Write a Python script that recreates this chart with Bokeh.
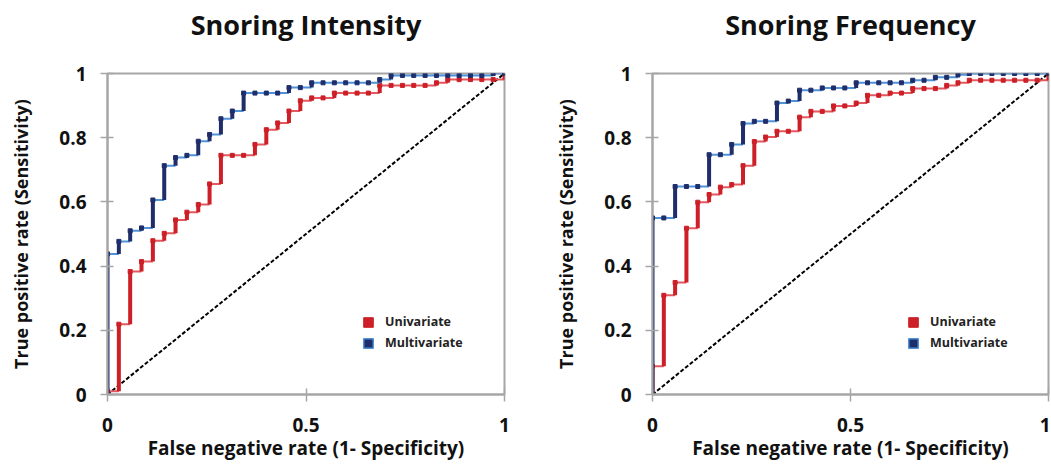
from bokeh.plotting import figure
from bokeh.layouts import row
from bokeh.models import Range1d, FixedTicker, Legend, LegendItem, Title
from bokeh.embed import file_html
from bokeh.resources import INLINE

# ---------------- data ----------------
fpr = [0.0, 0.0286, 0.0571, 0.0857, 0.1143, 0.1429, 0.1714, 0.2, 0.2286, 0.2571,
       0.2857, 0.3143, 0.3429, 0.3714, 0.4, 0.4286, 0.4571, 0.4857, 0.5143, 0.5429,
       0.5714, 0.6, 0.6286, 0.6571, 0.6857, 0.7143, 0.7429, 0.7714, 0.8, 0.8286,
       0.8571, 0.8857, 0.9143, 0.9429, 0.9714, 1.0]

intensity_uni = [0.01, 0.219, 0.383, 0.414, 0.479, 0.502, 0.544, 0.568, 0.592, 0.656,
                 0.745, 0.745, 0.745, 0.779, 0.825, 0.846, 0.883, 0.915, 0.924, 0.924,
                 0.939, 0.939, 0.939, 0.939, 0.963, 0.963, 0.963, 0.963, 0.963, 0.971,
                 0.981, 0.981, 0.981, 0.981, 0.981, 1.0]
intensity_multi = [0.438, 0.477, 0.510, 0.519, 0.606, 0.713, 0.738, 0.745, 0.789, 0.810,
                   0.859, 0.883, 0.939, 0.939, 0.939, 0.939, 0.956, 0.956, 0.971, 0.971,
                   0.971, 0.971, 0.971, 0.971, 0.981, 0.994, 0.994, 0.994, 0.994, 0.994,
                   0.994, 0.994, 0.994, 0.994, 1.0, 1.0]

frequency_uni = [0.088, 0.309, 0.349, 0.518, 0.599, 0.623, 0.646, 0.654, 0.713, 0.788,
                 0.802, 0.820, 0.820, 0.864, 0.882, 0.882, 0.899, 0.899, 0.908, 0.932,
                 0.932, 0.939, 0.939, 0.953, 0.953, 0.953, 0.963, 0.971, 0.979, 0.979,
                 0.979, 0.979, 0.979, 0.979, 0.979, 1.0]
frequency_multi = [0.55, 0.55, 0.648, 0.648, 0.648, 0.747, 0.747, 0.779, 0.844, 0.851,
                   0.851, 0.908, 0.914, 0.948, 0.948, 0.955, 0.955, 0.955, 0.971, 0.971,
                   0.971, 0.971, 0.971, 0.979, 0.979, 0.988, 0.988, 0.996, 1.0, 1.0,
                   1.0, 1.0, 1.0, 1.0, 1.0, 1.0]

titles = ["Snoring Intensity", "Snoring Frequency"]
series_names = ["Univariate", "Multivariate"]
diag_x = [0, 1]
diag_y = [0, 1]
x_ticks = [0, 0.5, 1]
x_tick_labels = ["0", "0.5", "1"]
y_ticks = [0, 0.2, 0.4, 0.6, 0.8, 1]
y_tick_labels = ["0", "0.2", "0.4", "0.6", "0.8", "1"]
x_label = "False negative rate (1- Specificity)"
y_label = "True positive rate (Sensitivity)"

# ---------------- style ----------------
FONT = "Open Sans"
NAVY = "#1F2E6B"
LIGHT_BLUE = "#4F92D8"
RED = "#CC1F27"
LIGHT_RED = "#E2585E"
FRAME_GRAY = "#A6A6A6"
TEXT = "#111111"
NAN = float("nan")


def draw_roc(p, xs, ys, dark, light):
    hx0, hx1, hy = [], [], []
    for k in range(len(xs) - 1):
        hx0.append(xs[k]); hx1.append(xs[k + 1]); hy.append(ys[k])
    p.segment(x0=hx0, y0=hy, x1=hx1, y1=hy, line_color=light, line_width=2)
    vx, vy0, vy1 = [], [], []
    prev = 0.0
    for k in range(len(xs)):
        if ys[k] != prev:
            vx.append(xs[k]); vy0.append(prev); vy1.append(ys[k])
        prev = ys[k]
    p.segment(x0=vx, y0=vy0, x1=vx, y1=vy1, line_color=dark, line_width=4)
    p.scatter(x=xs, y=ys, marker="square", size=4, fill_color=dark, line_color=dark)


def make_plot(title, uni, multi, width, border_left, border_right):
    p = figure(width=width, height=470, output_backend="svg", toolbar_location=None,
               x_range=Range1d(0, 1), y_range=Range1d(0, 1),
               min_border_left=border_left, min_border_right=border_right,
               min_border_top=73, min_border_bottom=76)
    p.background_fill_color = "white"
    p.border_fill_color = "white"
    p.outline_line_color = FRAME_GRAY
    p.outline_line_width = 2
    p.xgrid.visible = False
    p.ygrid.visible = False

    # spacer between frame and title, then the title itself
    p.add_layout(Title(text=" ", text_font_size="1px", standoff=28), "above")
    p.add_layout(Title(text=title, align="center", text_font=FONT,
                       text_font_style="bold", text_font_size="27px",
                       text_color=TEXT, standoff=0), "above")

    for ax, ticks, labels in ((p.xaxis[0], x_ticks, x_tick_labels),
                              (p.yaxis[0], y_ticks, y_tick_labels)):
        ax.ticker = FixedTicker(ticks=ticks)
        ax.major_label_overrides = {t: l for t, l in zip(ticks, labels)}
        ax.minor_tick_line_color = None
        ax.axis_line_color = FRAME_GRAY
        ax.axis_line_width = 2
        ax.major_tick_line_color = FRAME_GRAY
        ax.major_tick_line_width = 1.5
        ax.major_tick_in = 6
        ax.major_tick_out = 7
        ax.major_label_text_font = FONT
        ax.major_label_text_font_style = "bold"
        ax.major_label_text_font_size = "19px"
        ax.major_label_text_color = TEXT
        ax.axis_label_text_font = FONT
        ax.axis_label_text_font_style = "bold"
        ax.axis_label_text_color = TEXT

    p.xaxis.axis_label = x_label
    p.yaxis.axis_label = y_label
    p.xaxis.axis_label_text_font_size = "19px"
    p.yaxis.axis_label_text_font_size = "18px"
    p.xaxis.major_label_standoff = 16
    p.xaxis.axis_label_standoff = 0
    p.yaxis.major_label_standoff = 14
    p.yaxis.axis_label_standoff = 23
    p.yaxis.major_label_orientation = "horizontal"

    p.line(x=diag_x, y=diag_y, line_color="black", line_width=2, line_dash="4 2")

    draw_roc(p, fpr, uni, RED, LIGHT_RED)
    draw_roc(p, fpr, multi, NAVY, LIGHT_BLUE)

    # legend swatches
    r_u = p.quad(left=[NAN], right=[NAN], top=[NAN], bottom=[NAN],
                 fill_color=RED, line_color=RED)
    r_m = p.quad(left=[NAN], right=[NAN], top=[NAN], bottom=[NAN],
                 fill_color=NAVY, line_color=LIGHT_BLUE, line_width=1.5)
    leg = Legend(items=[LegendItem(label=series_names[0], renderers=[r_u]),
                        LegendItem(label=series_names[1], renderers=[r_m])],
                 location=(255, 43), orientation="vertical")
    leg.border_line_color = None
    leg.background_fill_alpha = 0
    leg.padding = 0
    leg.margin = 0
    leg.spacing = 4
    leg.glyph_width = 12
    leg.glyph_height = 12
    leg.label_height = 14
    leg.label_standoff = 11
    leg.label_text_font = FONT
    leg.label_text_font_style = "bold"
    leg.label_text_font_size = "12.5px"
    leg.label_text_color = "#222222"
    p.add_layout(leg, "center")
    return p


p1 = make_plot(titles[0], intensity_uni, intensity_multi, 520, 107, 16)
p2 = make_plot(titles[1], frequency_uni, frequency_multi, 530, 132, 2)

layout = row(p1, p2)
open("out.html", "w").write(file_html(layout, INLINE))
